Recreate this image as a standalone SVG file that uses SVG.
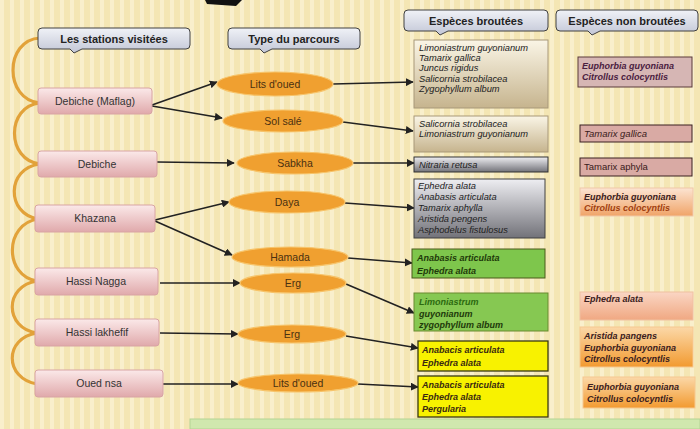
<svg xmlns="http://www.w3.org/2000/svg" width="700" height="429" viewBox="0 0 700 429">
<defs>
<pattern id="stripes" width="10" height="10" patternUnits="userSpaceOnUse">
<rect width="10" height="10" fill="#f4e6b4"/>
<rect width="4" height="10" fill="#f9efcc"/>
</pattern>
<linearGradient id="gHdr" x1="0" y1="0" x2="0" y2="1"><stop offset="0" stop-color="#f0f2f7"/><stop offset="1" stop-color="#c2c6d6"/></linearGradient>
<linearGradient id="gSta" x1="0" y1="0" x2="0" y2="1"><stop offset="0" stop-color="#fbe9e9"/><stop offset="1" stop-color="#e0a9ab"/></linearGradient>
<linearGradient id="gTan" x1="0" y1="0" x2="0" y2="1"><stop offset="0" stop-color="#faf5e6"/><stop offset="1" stop-color="#c6b48e"/></linearGradient>
<linearGradient id="gGrey" x1="0" y1="0" x2="0" y2="1"><stop offset="0" stop-color="#eeeef2"/><stop offset="1" stop-color="#727279"/></linearGradient>
<linearGradient id="gPeach" x1="0" y1="0" x2="0" y2="1"><stop offset="0" stop-color="#fce4d2"/><stop offset="1" stop-color="#f0a468"/></linearGradient>
<linearGradient id="gPeach2" x1="0" y1="0" x2="0" y2="1"><stop offset="0" stop-color="#fad6c4"/><stop offset="1" stop-color="#f0a882"/></linearGradient>
<linearGradient id="gOrange" x1="0" y1="0" x2="0" y2="1"><stop offset="0" stop-color="#fbd8a8"/><stop offset="1" stop-color="#f29a30"/></linearGradient>
<marker id="arr" viewBox="0 0 10 10" refX="9" refY="5" markerWidth="5" markerHeight="5" orient="auto"><path d="M0,0 L10,5 L0,10 z" fill="#222"/></marker>
</defs>
<style>
.hdr{fill:url(#gHdr);stroke:#404040;stroke-width:1}
.hdrt{font-family:"Liberation Sans",Arial,sans-serif;font-weight:bold;font-size:11px;fill:#222;text-anchor:middle}
.sta{fill:url(#gSta);stroke:#d8a4a4;stroke-width:1}
.stat{font-family:"Liberation Sans",Arial,sans-serif;font-size:10.5px;fill:#333;text-anchor:middle}
.ell{fill:#f0a030;stroke:#f7c46a;stroke-width:1.2}
.ellt{font-family:"Liberation Sans",Arial,sans-serif;font-size:10.5px;fill:#4a3010;text-anchor:middle}
.con{stroke:#222;stroke-width:1.6;fill:none;marker-end:url(#arr)}
.brace{stroke:#e2a23a;stroke-width:3.2;fill:none}
.sp{font-family:"Liberation Sans",Arial,sans-serif;font-size:9.3px;font-style:italic;fill:#222}
.spb{font-family:"Liberation Sans",Arial,sans-serif;font-size:9px;font-style:italic;font-weight:bold}
.spn{font-family:"Liberation Sans",Arial,sans-serif;font-size:9.5px;font-style:italic}
</style>
<rect width="700" height="429" fill="url(#stripes)"/>
<polygon points="205,0 242,0 236,6 207,4" fill="#111"/>

<g id="connectors">
<path class="brace" d="M40,38 C4,40 4,100 40,103"/>
<path class="brace" d="M40,103 C6,106 6,160 40,164"/>
<path class="brace" d="M40,164 C6,168 6,214 38,219"/>
<path class="brace" d="M38,219 C4,224 4,276 37,281"/>
<path class="brace" d="M37,281 C4,286 4,328 37,333"/>
<path class="brace" d="M37,333 C4,338 4,378 37,384"/>
<line class="con" x1="152" y1="105" x2="217" y2="82"/>
<line class="con" x1="152" y1="106" x2="222" y2="118"/>
<line class="con" x1="157" y1="162" x2="234" y2="163"/>
<line class="con" x1="155" y1="220" x2="229" y2="202"/>
<line class="con" x1="155" y1="221" x2="232" y2="255"/>
<line class="con" x1="160" y1="283" x2="240" y2="283"/>
<line class="con" x1="160" y1="333" x2="238" y2="334"/>
<line class="con" x1="159" y1="384" x2="238" y2="384"/>
<line class="con" x1="333" y1="84" x2="413" y2="82"/>
<line class="con" x1="343" y1="122" x2="413" y2="131"/>
<line class="con" x1="353" y1="163" x2="414" y2="163"/>
<line class="con" x1="345" y1="203" x2="414" y2="208"/>
<line class="con" x1="348" y1="258" x2="412" y2="263"/>
<line class="con" x1="346" y1="284" x2="414" y2="313"/>
<line class="con" x1="346" y1="336" x2="418" y2="348"/>
<line class="con" x1="358" y1="384" x2="418" y2="387"/>
</g>

<g id="hdr-stations">
<path class="hdr" d="M42,28 H186 Q190,28 190,32 V45 Q190,49 186,49 H82 L74,53 L70,49 H42 Q38,49 38,45 V32 Q38,28 42,28 Z"/>
<text class="hdrt" x="114" y="42.5">Les stations visitées</text>
</g>
<g id="hdr-parcours">
<path class="hdr" d="M232,28 H356 Q360,28 360,32 V45 Q360,49 356,49 H272 L264,53 L260,49 H232 Q228,49 228,45 V32 Q228,28 232,28 Z"/>
<text class="hdrt" x="294" y="42.5">Type du parcours</text>
</g>
<g id="hdr-broutees">
<path class="hdr" d="M408,10 H544 Q548,10 548,14 V27 Q548,31 544,31 H448 L440,35 L436,31 H408 Q404,31 404,27 V14 Q404,10 408,10 Z"/>
<text class="hdrt" x="476" y="24.5">Espèces broutées</text>
</g>
<g id="hdr-nonbroutees">
<path class="hdr" d="M560,10 H694 Q698,10 698,14 V27 Q698,31 694,31 H600 L592,35 L588,31 H560 Q556,31 556,27 V14 Q556,10 560,10 Z"/>
<text class="hdrt" x="627" y="24.5">Espèces non broutées</text>
</g>

<g id="st-debiche-maflag"><rect class="sta" x="38" y="88" width="114" height="26" rx="3"/><text class="stat" x="95" y="105">Debiche (Maflag)</text></g>
<g id="st-debiche"><rect class="sta" x="38" y="151" width="119" height="26" rx="3"/><text class="stat" x="97" y="168">Debiche</text></g>
<g id="st-khazana"><rect class="sta" x="35" y="205" width="120" height="27" rx="3"/><text class="stat" x="95" y="222">Khazana</text></g>
<g id="st-hassi-nagga"><rect class="sta" x="35" y="268" width="123" height="27" rx="3"/><text class="stat" x="96" y="285">Hassi Nagga</text></g>
<g id="st-hassi-lakhefif"><rect class="sta" x="35" y="319" width="124" height="27" rx="3"/><text class="stat" x="97" y="336">Hassi lakhefif</text></g>
<g id="st-oued-nsa"><rect class="sta" x="35" y="370" width="128" height="27" rx="3"/><text class="stat" x="99" y="387">Oued nsa</text></g>

<g id="p-lits1"><ellipse class="ell" cx="275" cy="84" rx="58" ry="12"/><text class="ellt" x="275" y="88">Lits d'oued</text></g>
<g id="p-sol"><ellipse class="ell" cx="283" cy="121" rx="60" ry="11"/><text class="ellt" x="283" y="125">Sol salé</text></g>
<g id="p-sabkha"><ellipse class="ell" cx="295" cy="163" rx="58" ry="11"/><text class="ellt" x="295" y="167">Sabkha</text></g>
<g id="p-daya"><ellipse class="ell" cx="287" cy="202" rx="58" ry="11"/><text class="ellt" x="287" y="206">Daya</text></g>
<g id="p-hamada"><ellipse class="ell" cx="290" cy="257" rx="58" ry="10"/><text class="ellt" x="290" y="261">Hamada</text></g>
<g id="p-erg1"><ellipse class="ell" cx="293" cy="283" rx="53" ry="10"/><text class="ellt" x="293" y="287">Erg</text></g>
<g id="p-erg2"><ellipse class="ell" cx="292" cy="334" rx="54" ry="9"/><text class="ellt" x="292" y="338">Erg</text></g>
<g id="p-lits2"><ellipse class="ell" cx="298" cy="383" rx="60" ry="9"/><text class="ellt" x="298" y="387">Lits d'oued</text></g>

<g id="b1"><rect x="414" y="40" width="134" height="68" fill="url(#gTan)" stroke="#a89878"/>
<text class="sp" x="419" y="51">Limoniastrum guyonianum</text>
<text class="sp" x="419" y="61">Tamarix gallica</text>
<text class="sp" x="419" y="71">Juncus rigidus</text>
<text class="sp" x="419" y="82">Salicornia strobilacea</text>
<text class="sp" x="419" y="92">Zygophyllum album</text></g>
<g id="b2"><rect x="414" y="116" width="134" height="36" fill="url(#gTan)" stroke="#a89878"/>
<text class="sp" x="419" y="127">Salicornia strobilacea</text>
<text class="sp" x="419" y="137">Limoniastrum guyonianum</text></g>
<g id="b3"><rect x="414" y="157" width="134" height="15" fill="url(#gGrey)" stroke="#303030"/>
<text class="sp" x="419" y="168">Nitraria retusa</text></g>
<g id="b4"><rect x="414" y="179" width="131" height="59" fill="url(#gGrey)" stroke="#404040"/>
<text class="sp" x="418" y="189">Ephedra alata</text>
<text class="sp" x="418" y="200">Anabasis articulata</text>
<text class="sp" x="418" y="211">Tamarix aphylla</text>
<text class="sp" x="418" y="222">Aristida pengens</text>
<text class="sp" x="418" y="233">Asphodelus fistulosus</text></g>
<g id="b5"><rect x="412" y="249" width="133" height="29" fill="#7ec64c" stroke="#4a5a1a"/>
<text class="spb" x="417" y="261" fill="#1e3a0a">Anabasis  articulata</text>
<text class="spb" x="417" y="274" fill="#1e3a0a">Ephedra alata</text></g>
<g id="b6"><rect x="414" y="293" width="134" height="38" fill="#86c852" stroke="#6a8a30"/>
<text class="spb" x="419" y="305" fill="#2c6a10">Limoniastrum</text>
<text class="spb" x="419" y="317" fill="#1e3a0a">guyonianum</text>
<text class="spb" x="419" y="328" fill="#1e3a0a">zygophyllum album</text></g>
<g id="b7"><rect x="418" y="341" width="130" height="30" fill="#f8f200" stroke="#3a3a10" stroke-width="1.3"/>
<text class="spb" x="422" y="353" fill="#3a2a10">Anabacis articulata</text>
<text class="spb" x="422" y="366" fill="#3a2a10">Ephedra alata</text></g>
<g id="b8"><rect x="418" y="376" width="130" height="41" fill="#f8f200" stroke="#3a3a10" stroke-width="1.3"/>
<text class="spb" x="422" y="388" fill="#3a2a10">Anabacis articulata</text>
<text class="spb" x="422" y="400" fill="#3a2a10">Ephedra alata</text>
<text class="spb" x="422" y="412" fill="#3a2a10">Pergularia</text></g>

<g id="n1"><rect x="578" y="57" width="114" height="30" fill="#d6b6b4" stroke="#5a3a3a"/>
<text class="spb" x="582" y="69" fill="#4a2040">Euphorbia guyoniana</text>
<text class="spb" x="582" y="80" fill="#4a2040">Citrollus colocyntlis</text></g>
<g id="n2"><rect x="580" y="125" width="112" height="17" fill="#d9aaa4" stroke="#3a2020"/>
<text class="spn" x="584" y="137" fill="#3a1a1a">Tamarix gallica</text></g>
<g id="n3"><rect x="580" y="158" width="112" height="18" fill="#d9aaa4" stroke="#3a2020"/>
<text x="584" y="170" font-family="Liberation Sans, Arial, sans-serif" font-size="9.5" fill="#3a1a1a">Tamarix aphyla</text></g>
<g id="n4"><rect x="580" y="188" width="113" height="28" fill="url(#gPeach)" stroke="#f0c8a8"/>
<text class="spb" x="584" y="200" fill="#3a2020">Euphorbia guyoniana</text>
<text class="spb" x="584" y="211" fill="#a04010">Citrollus colocyntlis</text></g>
<g id="n5"><rect x="580" y="292" width="113" height="28" fill="url(#gPeach2)" stroke="#f0c0a0"/>
<text class="spb" x="584" y="302" fill="#3a2020">Ephedra alata</text></g>
<g id="n6"><rect x="580" y="327" width="113" height="40" fill="url(#gOrange)" stroke="#f6c890"/>
<text class="spb" x="584" y="339" fill="#3a2020">Aristida pangens</text>
<text class="spb" x="584" y="351" fill="#3a2020">Euphorbia guyoniana</text>
<text class="spb" x="584" y="362" fill="#3a2020">Citrollus colocyntlis</text></g>
<g id="n7"><rect x="583" y="377" width="112" height="31" fill="url(#gOrange)" stroke="#f6c890"/>
<text class="spb" x="587" y="390" fill="#3a2020">Euphorbia guyoniana</text>
<text class="spb" x="587" y="402" fill="#3a2020">Citrollus colocyntlis</text></g>

<rect x="190" y="419" width="510" height="10" fill="#d0e8ae" stroke="#b4d494"/>
</svg>
